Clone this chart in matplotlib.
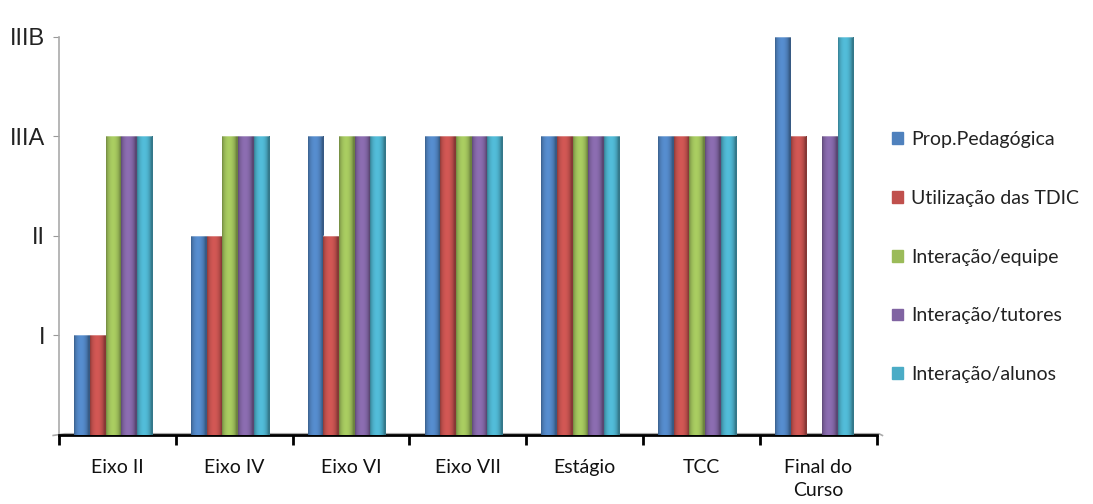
import numpy as np
import matplotlib
matplotlib.use("Agg")
import matplotlib.pyplot as plt
from matplotlib.colors import to_rgb
from matplotlib.lines import Line2D

categories = ["Eixo II", "Eixo IV", "Eixo VI", "Eixo VII", "Estágio", "TCC", "Final do\nCurso"]
level_labels = ["I", "II", "IIIA", "IIIB"]
level_values = [1, 2, 3, 4]

series_names = ["Prop.Pedagógica", "Utilização das TDIC", "Interação/equipe",
                "Interação/tutores", "Interação/alunos"]
prop_pedagogica = [1, 2, 3, 3, 3, 3, 4]
utilizacao_tdic = [1, 2, 2, 3, 3, 3, 3]
interacao_equipe = [3, 3, 3, 3, 3, 3, 0]
interacao_tutores = [3, 3, 3, 3, 3, 3, 3]
interacao_alunos = [3, 3, 3, 3, 3, 3, 4]
series_values = [prop_pedagogica, utilizacao_tdic, interacao_equipe,
                 interacao_tutores, interacao_alunos]
colors = ["#4F81BD", "#C0504D", "#9BBB59", "#8064A2", "#4BACC6"]

fig = plt.figure(figsize=(10.93, 5.04), dpi=100)
ax = fig.add_axes([0.054, 0.137, 0.748, 0.79])

n = len(categories)
x = np.arange(n)
bar_w = 0.134
shift = -0.035

# cylinder-like shading profile across a bar's width
u = np.linspace(0, 1, 64)
profile = 0.70 + 0.40 * np.sin(np.pi * np.clip(u * 1.12, 0, 1)) ** 0.6
profile = np.clip(profile, 0, 1.1)

for k, (vals, col) in enumerate(zip(series_values, colors)):
    offs = (k - 2) * bar_w + shift
    bars = ax.bar(x + offs, vals, width=bar_w, color=col, edgecolor="none", zorder=3)
    base = np.array(to_rgb(col))
    img = np.clip(base[None, None, :] * profile[None, :, None], 0, 1)
    for b, v in zip(bars, vals):
        if v <= 0:
            continue
        x0 = b.get_x()
        im = ax.imshow(img, extent=[x0, x0 + bar_w, 0, v], aspect="auto",
                       interpolation="bilinear", zorder=4)
        im.set_clip_path(b)
        # light rim on top of the bar
        ax.plot([x0, x0 + bar_w], [v, v], color="white", alpha=0.35, lw=1.2,
                zorder=5, solid_capstyle="butt")

ax.set_xlim(-0.5, n - 0.5)
ax.set_ylim(0, 4)

ax.set_yticks(level_values)
ax.set_yticklabels(level_labels, fontfamily="Liberation Sans", fontsize=17, color="#222222")
ax.tick_params(axis="y", length=4, color="#999999", pad=6)

ax.set_xticks(x)
ax.set_xticklabels(categories, fontfamily="Lato", fontsize=14, color="#111111",
                   linespacing=1.45)
ax.tick_params(axis="x", length=0, pad=17)
ax.set_xticks(np.arange(-0.5, n, 1.0), minor=True)
ax.tick_params(axis="x", which="minor", length=7, width=2, color="black", direction="out")

for side in ["top", "right"]:
    ax.spines[side].set_visible(False)
ax.spines["left"].set_color("#aaaaaa")
ax.spines["left"].set_linewidth(1.2)
ax.spines["bottom"].set_color("black")
ax.spines["bottom"].set_linewidth(2)

# floor edge of the 3D base
ax.add_line(Line2D([-0.55, -0.45, n - 0.48, n - 0.45], [-0.005, 0.012, 0.012, -0.005],
                   color="#aaaaaa", lw=1.2, transform=ax.transData, clip_on=False, zorder=2))

handles = [plt.Rectangle((0, 0), 1, 1, color=c) for c in colors]
leg = fig.legend(handles, series_names, loc="center left", bbox_to_anchor=(0.8, 0.49),
                 frameon=False, handlelength=0.55, handleheight=0.55, handletextpad=0.45,
                 labelspacing=2.15, prop={"family": "Lato", "size": 14})
for t in leg.get_texts():
    t.set_color("#222222")

fig.savefig("out.png", dpi=100)
